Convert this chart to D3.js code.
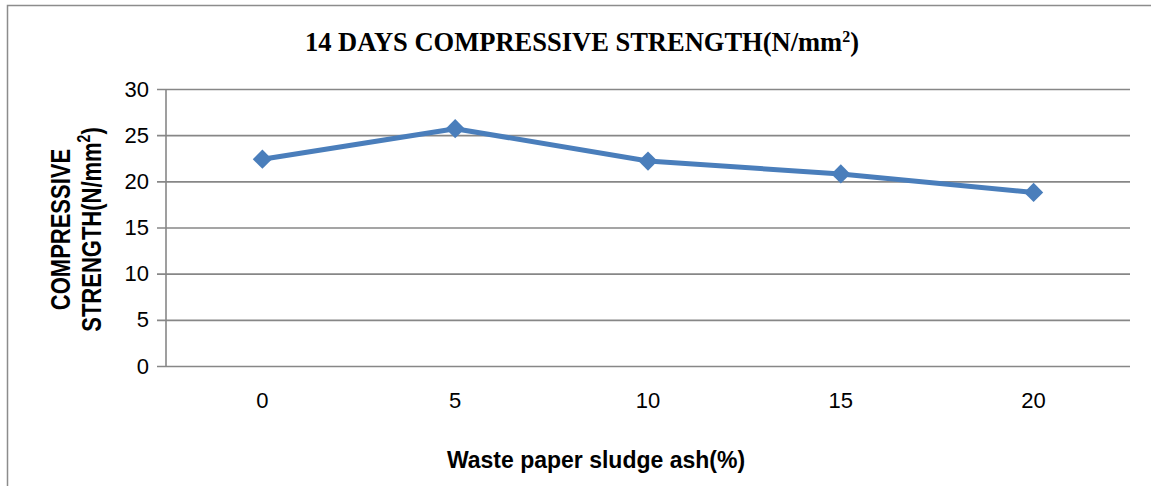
<!DOCTYPE html>
<html>
<head>
<meta charset="utf-8">
<script src="https://cdn.jsdelivr.net/npm/d3@7"></script>
<style>
  html, body { margin: 0; padding: 0; background: #fff; }
  svg { display: block; }
</style>
</head>
<body>
<svg id="chart" width="1151" height="486"></svg>
<script>
// Waste paper sludge ash replacement (%) vs 14-day compressive strength
const categories = ["0", "5", "10", "15", "20"];
const strength = [22.4, 25.7, 22.2, 20.8, 18.8];
const yTicks = [0, 5, 10, 15, 20, 25, 30];

const svg = d3.select("#chart");
const W = 1151, H = 486;
const plot = { left: 166, right: 1130, top: 89, bottom: 366 };

// chart frame
svg.append("rect")
  .attr("x", 7.5).attr("y", 5.5)
  .attr("width", W + 20).attr("height", H + 20)
  .attr("fill", "#fff")
  .attr("stroke", "#8c8c8c").attr("stroke-width", 1.5);

const x = d3.scaleBand().domain(categories).range([plot.left, plot.right]);
const y = d3.scaleLinear().domain([0, 30]).range([plot.bottom, plot.top]);

// horizontal gridlines with short ticks to the left of the axis
const yAxis = d3.axisLeft(y)
  .tickValues(yTicks)
  .tickSize(-(plot.right - plot.left))
  .tickPadding(17)
  .tickFormat(d3.format("d"));
const gy = svg.append("g")
  .attr("transform", `translate(${plot.left},0)`)
  .call(yAxis);
gy.select(".domain").remove();
gy.selectAll(".tick line")
  .attr("x1", -9)
  .attr("stroke", "#878787").attr("stroke-width", 1.6);
gy.selectAll(".tick text")
  .attr("font-family", "'Liberation Sans', Arial, sans-serif")
  .attr("font-size", 22).attr("fill", "#000");

// vertical axis line
svg.append("line")
  .attr("x1", plot.left).attr("x2", plot.left)
  .attr("y1", y(30)).attr("y2", y(0))
  .attr("stroke", "#878787").attr("stroke-width", 1.6);

// category labels
const xAxis = d3.axisBottom(x).tickSize(0).tickPadding(26);
const gx = svg.append("g")
  .attr("transform", `translate(0,${plot.bottom})`)
  .call(xAxis);
gx.select(".domain").remove();
gx.selectAll(".tick text")
  .attr("font-family", "'Liberation Sans', Arial, sans-serif")
  .attr("font-size", 22).attr("fill", "#000");

// data line
const cx = d => x(d) + x.bandwidth() / 2;
const line = d3.line()
  .x((d, i) => cx(categories[i]))
  .y(d => y(d));
svg.append("path")
  .datum(strength)
  .attr("d", line)
  .attr("fill", "none")
  .attr("stroke", "#4a7ebb")
  .attr("stroke-width", 5)
  .attr("stroke-linejoin", "round");

// diamond markers
const diamond = d3.symbol().type(d3.symbolSquare).size(185);
svg.append("g").selectAll("path")
  .data(strength)
  .join("path")
  .attr("d", diamond)
  .attr("transform", (d, i) => `translate(${cx(categories[i])},${y(d)}) rotate(45)`)
  .attr("fill", "#4a7ebb");

// title
const title = svg.append("text")
  .attr("x", 582).attr("y", 51)
  .attr("text-anchor", "middle")
  .attr("font-family", "'Liberation Serif', 'Times New Roman', serif")
  .attr("font-weight", "bold")
  .attr("font-size", 26.5)
  .attr("fill", "#000");
title.append("tspan").text("14 DAYS COMPRESSIVE STRENGTH(N/mm");
title.append("tspan").text("2").attr("font-size", 16).attr("dy", -9);
title.append("tspan").text(")").attr("dy", 9);

// x-axis title
svg.append("text")
  .attr("x", 596).attr("y", 468)
  .attr("text-anchor", "middle")
  .attr("font-family", "'Liberation Sans', Arial, sans-serif")
  .attr("font-weight", "bold")
  .attr("font-size", 23)
  .attr("fill", "#000")
  .text("Waste paper sludge ash(%)");

// y-axis title, two lines (slightly condensed letterforms)
const yTitle = svg.append("text")
  .attr("transform", `translate(70,${(plot.top + plot.bottom) / 2 + 2}) rotate(-90) scale(1,1.25)`)
  .attr("text-anchor", "middle")
  .attr("font-family", "'Liberation Sans', Arial, sans-serif")
  .attr("font-weight", "bold")
  .attr("font-size", 22)
  .attr("fill", "#000");
yTitle.append("tspan").attr("x", 0).attr("y", 0).text("COMPRESSIVE");
const l2 = yTitle.append("tspan").attr("x", 0).attr("y", 25);
l2.append("tspan").text("STRENGTH(N/mm");
l2.append("tspan").text("2").attr("font-size", 14).attr("dy", -9);
l2.append("tspan").text(")").attr("dy", 9);
</script>
</body>
</html>
